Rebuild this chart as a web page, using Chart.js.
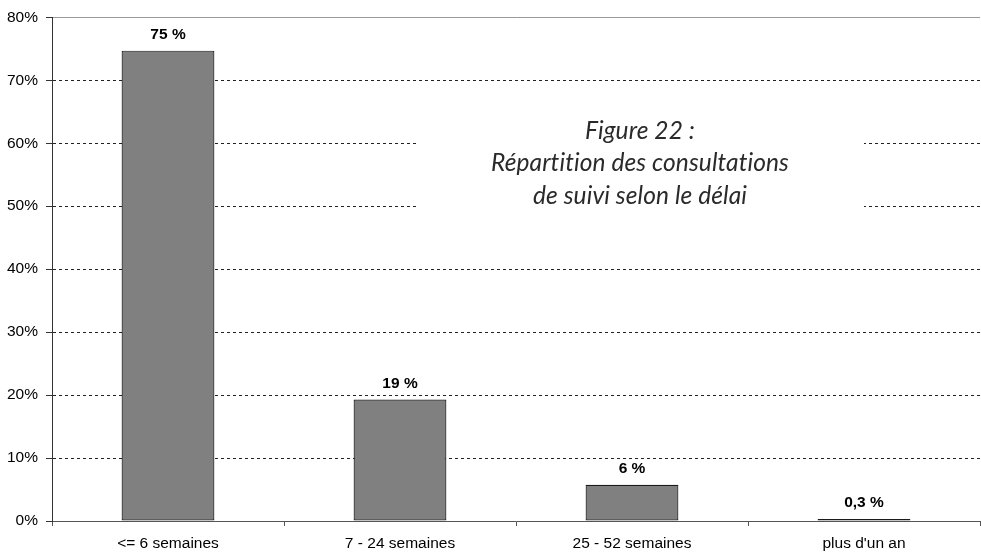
<!DOCTYPE html>
<html>
<head>
<meta charset="utf-8">
<script src="https://cdn.jsdelivr.net/npm/chart.js@4/dist/chart.umd.min.js"></script>
<style>
  html, body { margin: 0; padding: 0; background: #fff; }
  #wrap { width: 981px; height: 552px; }
</style>
</head>
<body>
<div id="wrap"><canvas id="chart" width="981" height="552"></canvas></div>
<script>
// chart data
const categories = ['<= 6 semaines', '7 - 24 semaines', '25 - 52 semaines', "plus d'un an"];
const shares = [74.7, 19.3, 5.75, 0.3];
const shareLabels = ['75 %', '19 %', '6 %', '0,3 %'];
const titleLines = ['Figure 22 :', 'Répartition des consultations', 'de suivi selon le délai'];

const axisFont = { family: '"Liberation Sans", Arial, sans-serif', size: 15.5 };

// value labels above each bar
const valueLabels = {
  id: 'valueLabels',
  afterDatasetsDraw(chart) {
    const ctx = chart.ctx;
    const meta = chart.getDatasetMeta(0);
    ctx.save();
    ctx.font = 'bold 15.5px "Liberation Sans", Arial, sans-serif';
    ctx.fillStyle = '#000';
    ctx.textAlign = 'center';
    ctx.textBaseline = 'middle';
    meta.data.forEach((bar, i) => {
      ctx.fillText(shareLabels[i], bar.x, bar.y - 16);
    });
    ctx.restore();
  }
};

// figure caption in a white box over the grid
const captionBox = {
  id: 'captionBox',
  afterDatasetsDraw(chart) {
    const ctx = chart.ctx;
    ctx.save();
    ctx.fillStyle = '#fff';
    ctx.fillRect(416, 100, 448, 118);
    ctx.font = 'italic 400 24.5px Lato, "Open Sans", sans-serif';
    ctx.letterSpacing = '0.1px'; // no "ti" ligature
    ctx.fillStyle = '#2a2a2a';
    ctx.textAlign = 'center';
    ctx.textBaseline = 'middle';
    titleLines.forEach((line, i) => {
      ctx.fillText(line, 640, 131 + i * 32.5);
    });
    ctx.restore();
  }
};

new Chart(document.getElementById('chart'), {
  type: 'bar',
  data: {
    labels: categories,
    datasets: [{
      data: shares,
      backgroundColor: '#808080',
      borderColor: '#1a1a1a',
      borderWidth: 1.2,
      borderSkipped: false,
      barPercentage: 0.4,
      categoryPercentage: 1.0
    }]
  },
  options: {
    responsive: false,
    animation: false,
    layout: { padding: { top: 15, right: 1, left: 0, bottom: 0 } },
    plugins: {
      legend: { display: false },
      tooltip: { enabled: false }
    },
    scales: {
      x: {
        offset: true,
        afterFit: scale => { scale.height = 31; },
        grid: {
          offset: true,
          drawOnChartArea: false,
          drawTicks: true,
          tickLength: 5,
          tickColor: '#555'
        },
        border: { display: true, color: '#555', width: 1 },
        ticks: { font: axisFont, color: '#000', padding: 8, maxRotation: 0 }
      },
      y: {
        min: 0,
        max: 80,
        afterFit: scale => { scale.width = 52; },
        grid: {
          color: c => {
            if (!c.tick) return '#000';
            if (c.tick.value === 0) return 'rgba(0,0,0,0)';
            if (c.tick.value === 80) return '#999';
            return '#222';
          },
          tickColor: '#333',
          tickLength: 6,
          lineWidth: 1
        },
        border: {
          display: true,
          color: '#333',
          dash: c => (c.tick && c.tick.value !== 80 ? [3, 3] : [])
        },
        ticks: {
          stepSize: 10,
          font: axisFont,
          color: '#000',
          padding: 8,
          callback: v => v + '%'
        }
      }
    }
  },
  plugins: [valueLabels, captionBox]
});
</script>
</body>
</html>
